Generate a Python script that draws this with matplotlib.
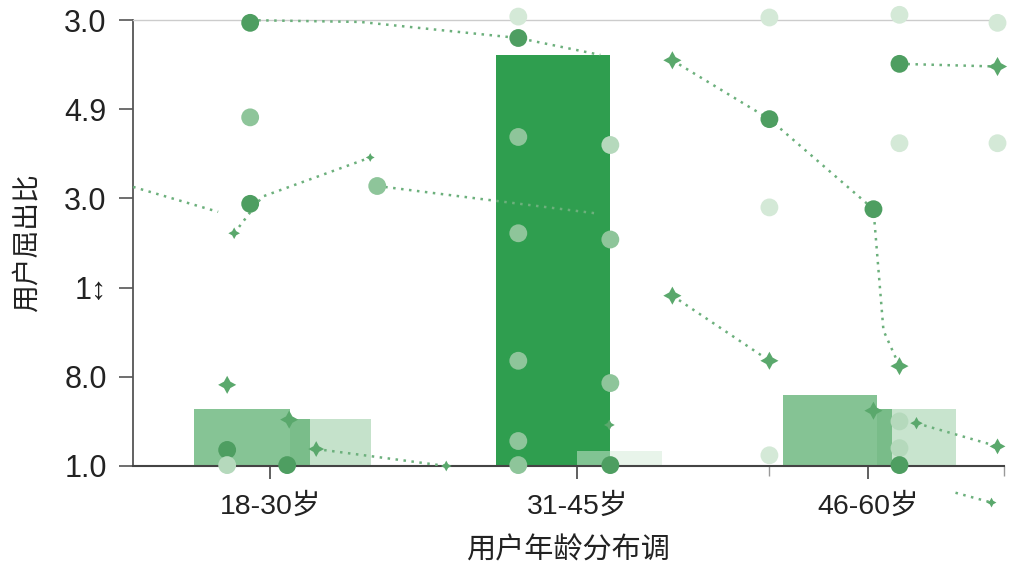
import matplotlib
matplotlib.use("Agg")
import matplotlib.pyplot as plt

plt.rcParams['font.family'] = ['Liberation Sans', 'Noto Sans CJK SC', 'DejaVu Sans']

# ---- data
cat_labels = ["18-30岁", "31-45岁", "46-60岁"]
cat_pos = [1.37, 4.44, 7.35]
minor_pos = [6.36, 8.70]
ytick_pos = [0, 1, 2, 3, 4, 5]
ytick_labels = ["1.0", "8.0", "1↕", "3.0", "4.9", "3.0"]

# bars: left edge, width, height, colour
bar_left = [0.61, 1.57, 1.77, 3.63, 4.44, 6.50, 7.44, 7.59]
bar_width = [0.96, 0.20, 0.61, 1.14, 0.85, 0.94, 0.15, 0.64]
bar_height = [0.64, 0.53, 0.53, 4.61, 0.17, 0.80, 0.64, 0.64]
bar_color = ["#86c495", "#7abd8a", "#c5e2cb", "#2f9e4f", "#d3ead780",
             "#85c394", "#79bc89", "#c8e4ce"]

# circles
dot_x = [1.17, 1.17, 1.17, 2.44, 3.85, 3.85, 3.85, 3.85, 3.85, 3.85, 3.85,
         4.77, 4.77, 4.77, 4.77, 6.36, 6.36, 6.36, 6.36, 7.40, 7.66, 7.66,
         7.66, 7.66, 7.66, 7.66, 8.64, 8.64, 0.94, 0.94, 1.54]
dot_y = [4.97, 3.91, 2.94, 3.14, 4.80, 5.04, 3.69, 2.61, 1.18, 0.28, 0.01,
         3.60, 2.54, 0.93, 0.01, 5.03, 3.89, 2.90, 0.12, 2.88, 5.06, 4.51,
         3.62, 0.50, 0.20, 0.01, 4.97, 3.62, 0.18, 0.01, 0.01]
dot_level = ["d", "m", "d", "m", "d", "v", "m", "m", "m", "m", "m",
             "l", "m", "m", "d", "v", "d", "v", "v", "d", "v", "d",
             "v", "l", "l", "d", "v", "v", "d", "l", "d"]

# four-point stars
star_x = [0.94, 1.56, 1.83, 3.13, 1.01, 2.37, 5.39, 5.39, 6.36, 7.66, 7.40,
          7.83, 8.64, 8.64, 8.58, 4.76]
star_y = [0.91, 0.52, 0.19, 0.00, 2.61, 3.46, 4.55, 1.91, 1.18, 1.12, 0.62,
          0.48, 0.22, 4.48, -0.41, 0.46]
star_size = [170, 170, 130, 60, 70, 40, 170, 170, 170, 170, 170,
             80, 130, 190, 50, 60]

# dotted connector lines
lines = [
    ([0.00, 0.85], [3.13, 2.85]),
    ([1.01, 1.29, 2.37], [2.61, 3.02, 3.46]),
    ([2.44, 4.65], [3.14, 2.83]),
    ([1.17, 2.27, 3.85, 4.67], [5.00, 4.98, 4.80, 4.61]),
    ([5.39, 6.36, 7.40, 7.50, 7.66], [4.55, 3.89, 2.88, 1.52, 1.12]),
    ([5.39, 6.36], [1.91, 1.18]),
    ([7.66, 8.64], [4.51, 4.48]),
    ([1.83, 3.13], [0.19, 0.00]),
    ([7.83, 8.64], [0.48, 0.22]),
    ([8.22, 8.58], [-0.30, -0.41]),
]

level_color = {"d": "#4e9e61", "m": "#8ec59a", "l": "#b5d9bc", "v": "#d4e9d7"}

fig = plt.figure(figsize=(10.24, 5.76), dpi=100)
ax = fig.add_axes([0.130, 0.191, 0.850, 0.774])

ax.bar(bar_left, bar_height, width=bar_width, align='edge',
       color=bar_color, linewidth=0, zorder=2)

for xs, ys in lines:
    ax.plot(xs, ys, linestyle=(0, (1, 2.2)), color='#6cb07c', linewidth=1.8,
            zorder=3, clip_on=False)

ax.scatter(dot_x, dot_y, s=165, c=[level_color[k] for k in dot_level],
           linewidths=0, zorder=4, clip_on=False)
ax.scatter(star_x, star_y, s=star_size, marker=(4, 1, 0), c="#5aa86c",
           linewidths=0, zorder=5, clip_on=False)

ax.set_xlim(0, 8.70)
ax.set_ylim(0, 5)

ax.set_xticks(cat_pos)
ax.set_xticklabels(cat_labels, fontsize=20.5, color='#222222')
ax.set_xticks(minor_pos, minor=True)
ax.tick_params(axis='x', which='major', length=9, width=1.2, color='#444444', pad=11)
ax.tick_params(axis='x', which='minor', length=7, width=1, color='#999999')

ax.set_yticks(ytick_pos)
ax.set_yticklabels(ytick_labels, fontsize=22, color='#222222')
ax.tick_params(axis='y', length=10, width=1.2, color='#555555', pad=9)

ax.spines['left'].set_color('#555555')
ax.spines['left'].set_linewidth(1.3)
ax.spines['bottom'].set_color('#444444')
ax.spines['bottom'].set_linewidth(1.5)
ax.spines['top'].set_color('#cccccc')
ax.spines['top'].set_linewidth(1)
ax.spines['right'].set_visible(False)

ax.set_xlabel("用户年龄分布调", fontsize=21, color='#222222', labelpad=12)
ax.set_ylabel("用户屈出比", fontsize=20, color='#222222', labelpad=17)

plt.savefig("out.png", dpi=100)
